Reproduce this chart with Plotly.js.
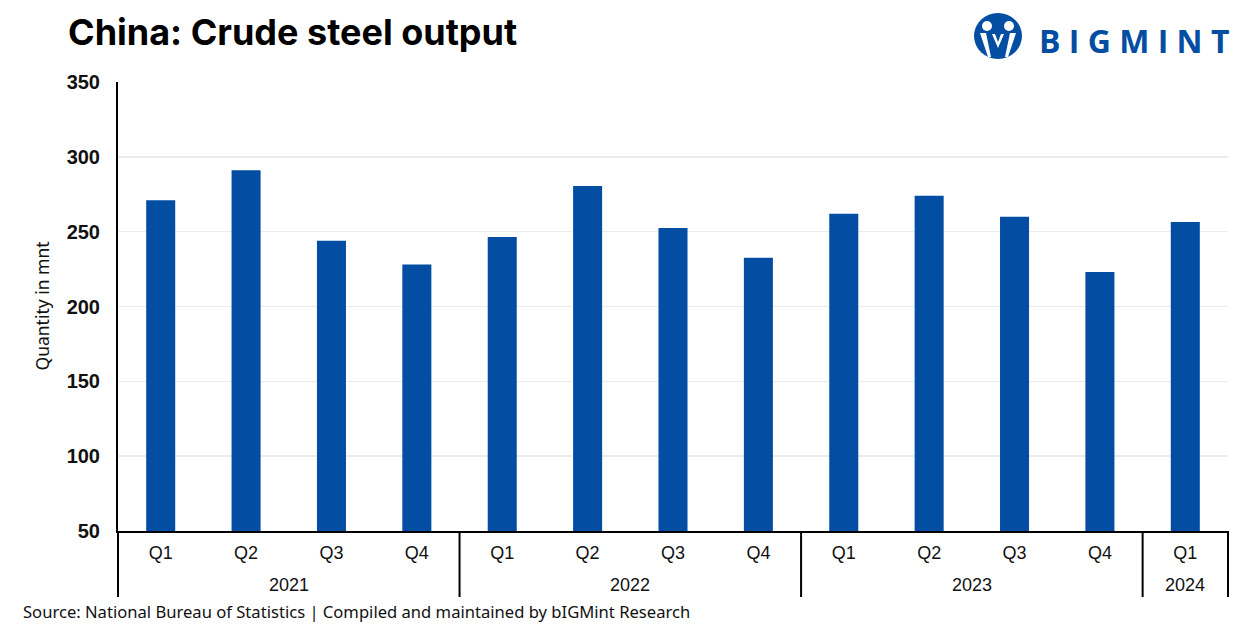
<!DOCTYPE html>
<html>
<head>
<meta charset="utf-8">
<script src="https://cdn.plot.ly/plotly-3.0.1.min.js"></script>
<style>html,body{margin:0;padding:0;background:#fff;}#chart{width:1250px;height:625px;}</style>
</head>
<body>
<div id="chart"></div>
<script>
const years = ["2021","2021","2021","2021","2022","2022","2022","2022","2023","2023","2023","2023","2024"];
const quarters = ["Q1","Q2","Q3","Q4","Q1","Q2","Q3","Q4","Q1","Q2","Q3","Q4","Q1"];
const output = [271, 291, 244, 228, 246.5, 280.5, 252.5, 232.5, 262, 274, 260, 223, 256.5];
const yTicks = [50, 100, 150, 200, 250, 300, 350];

const blue = "#034ea2";
const txt = "#111";
const baseFont = "Liberation Sans, Arial, sans-serif";
const xLabels = years.map((y, i) => y + " " + quarters[i]);

const trace = {
  type: "bar",
  x: xLabels,
  y: output,
  marker: {color: blue},
  hoverinfo: "skip"
};

// year groups (from the data arrays)
const groups = [];
years.forEach((y, i) => {
  const g = groups[groups.length - 1];
  if (!g || g.year !== y) groups.push({year: y, start: i, end: i});
  else g.end = i;
});

const plotH = 625 - 82 - 94;
const divDepth = 66 / plotH;

const annotations = [
  {text: "<b>China: Crude steel output</b>", xref: "paper", yref: "paper", x: 0, xshift: -52, y: 1, yshift: 50,
   xanchor: "left", yanchor: "middle", showarrow: false,
   font: {size: 36, color: "#000", family: "Inter, Liberation Sans, sans-serif"}},
  {text: "Quantity in mnt", xref: "paper", yref: "paper", x: 0, xshift: -91, y: 0.5, yshift: 0, textangle: -90,
   showarrow: false, font: {size: 17.5, color: txt, family: "Noto Sans, Open Sans, sans-serif"}},
  {text: "Source: National Bureau of Statistics | Compiled and maintained by bIGMint Research", xref: "paper", yref: "paper",
   x: 0, xshift: -97, y: 0, yshift: -80, xanchor: "left", yanchor: "middle", showarrow: false,
   font: {size: 16.6, color: txt, family: "Noto Sans, sans-serif"}},
  {text: "<b>B I G M I N T</b>", xref: "paper", yref: "paper", x: 1, xshift: 3, y: 1, yshift: 42, xanchor: "right", yanchor: "middle",
   showarrow: false, font: {size: 32, color: blue, family: "Open Sans, Liberation Sans, sans-serif"}}
];
groups.forEach(g => {
  annotations.push({text: g.year, xref: "x", yref: "paper", x: (g.start + g.end) / 2, y: 0, yshift: -54,
    xanchor: "center", yanchor: "middle", showarrow: false, font: {size: 18, color: txt, family: baseFont}});
});

const shapes = [];
groups.forEach((g, k) => {
  if (k === 0) shapes.push({type: "line", xref: "paper", yref: "paper", x0: 0, x1: 0, y0: 0, y1: -divDepth, line: {color: "#000", width: 2}});
  if (k === groups.length - 1) shapes.push({type: "line", xref: "paper", yref: "paper", x0: 1, x1: 1, y0: 0, y1: -divDepth, line: {color: "#000", width: 2}});
  else shapes.push({type: "line", xref: "x", yref: "paper", x0: g.end + 0.5, x1: g.end + 0.5, y0: 0, y1: -divDepth, line: {color: "#000", width: 2}});
});

// logo mark
const plotW = 1250 - 118 - 22;
const lx = (998 - 118) / plotW, ly = (625 - 94 - 36) / plotH;
shapes.push(
  {type: "circle", xref: "paper", yref: "paper", xsizemode: "pixel", ysizemode: "pixel", xanchor: lx, yanchor: ly,
   x0: -24, x1: 24, y0: -23, y1: 23, fillcolor: blue, line: {width: 0}},
  {type: "circle", xref: "paper", yref: "paper", xsizemode: "pixel", ysizemode: "pixel", xanchor: lx, yanchor: ly,
   x0: -16, x1: -6, y0: 5, y1: 15, fillcolor: "#fff", line: {width: 0}},
  {type: "circle", xref: "paper", yref: "paper", xsizemode: "pixel", ysizemode: "pixel", xanchor: lx, yanchor: ly,
   x0: 6, x1: 16, y0: 5, y1: 15, fillcolor: "#fff", line: {width: 0}},
  {type: "path", xref: "paper", yref: "paper", xsizemode: "pixel", ysizemode: "pixel", xanchor: lx, yanchor: ly,
   path: "M -18 3 L -12 3 L -7 -21 L -10 -21 Z M 18 3 L 12 3 L 7 -21 L 10 -21 Z M -6 2 L 0 -12 L 6 2 L 3 2 L 0 -6 L -3 2 Z",
   fillcolor: "#fff", line: {width: 0}}
);

const layout = {
  width: 1250, height: 625,
  margin: {l: 118, r: 22, t: 82, b: 94},
  paper_bgcolor: "#fff", plot_bgcolor: "#fff",
  bargap: 0.66,
  showlegend: false,
  font: {family: baseFont, color: txt},
  xaxis: {
    type: "category", tickvals: xLabels, ticktext: quarters,
    showline: true, linecolor: "#000", linewidth: 2,
    showgrid: false, zeroline: false,
    ticks: "outside", ticklen: 4, tickcolor: "rgba(0,0,0,0)",
    tickfont: {size: 18, color: txt, family: baseFont},
    automargin: false
  },
  yaxis: {
    range: [50, 350], tickvals: yTicks,
    showline: true, linecolor: "#000", linewidth: 2,
    showgrid: true, gridcolor: "#ebebeb", gridwidth: 1.5, zeroline: false,
    ticks: "outside", ticklen: 12, tickcolor: "rgba(0,0,0,0)",
    tickfont: {size: 20, color: txt, family: baseFont, weight: "bold"},
    automargin: false
  },
  annotations: annotations,
  shapes: shapes
};

Plotly.newPlot("chart", [trace], layout, {displayModeBar: false, staticPlot: true});
</script>
</body>
</html>
